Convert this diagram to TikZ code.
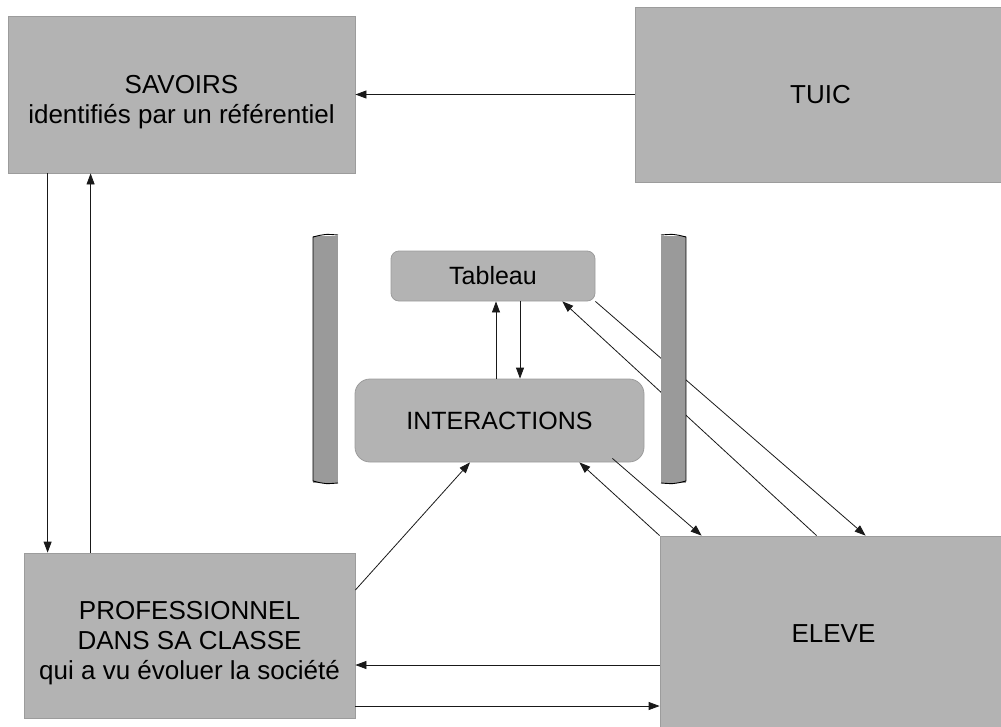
\documentclass[tikz,border=0pt]{standalone}
\usepackage{fontspec}
\setmainfont{Liberation Sans}
\usetikzlibrary{arrows.meta}

\definecolor{boite}{HTML}{B3B3B3}
\definecolor{bord}{HTML}{9C9C9C}
\definecolor{barre}{HTML}{9A9A9A}

\tikzset{
  bloc/.style={rectangle, fill=boite, draw=bord, line width=0.8pt, align=center,
    inner sep=0pt, font=\fontsize{26}{30}\selectfont},
  texte/.style={align=center, inner sep=0pt, yshift=-8pt, font=\fontsize{26}{30}\selectfont},
  arrondi/.style={bloc, rounded corners=#1, font=\fontsize{25}{30}\selectfont},
  arrondi/.default=10pt,
  fleche/.style={->, line width=0.8pt, black!90}
}

\begin{document}
\begin{tikzpicture}[x=1pt, y=-1pt, >={Triangle[length=11pt,width=8pt]}]
	\useasboundingbox (0,0) rectangle (1001,726);

	% Boxes
	\node[bloc, minimum width=347pt, minimum height=157pt,
		label={[texte]center:SAVOIRS\\identifiés par un référentiel}] (savoirs) at (181.5,94.5) {};
	\node[bloc, minimum width=371pt, minimum height=175pt] (tuic) at (820.5,94.5) {TUIC};
	\node[bloc, minimum width=331pt, minimum height=165pt,
		label={[texte]center:PROFESSIONNEL\\DANS SA CLASSE\\qui a vu évoluer la société}] (prof) at (189.5,635.5) {};
	\node[bloc, minimum width=347pt, minimum height=196pt] (eleve) at (833.5,634) {ELEVE};
	\node[arrondi=8pt, minimum width=204pt, minimum height=50pt] (tableau) at (493,276) {Tableau};
	\node[arrondi=15pt, minimum width=289pt, minimum height=83pt] (inter) at (499.5,420.5) {INTERACTIONS};

	% Arrows
	\draw[fleche] (tuic.west) -- (savoirs.east);
	\draw[fleche] ([xshift=40pt]savoirs.south west) -- ([xshift=40pt]savoirs.south west |- prof.north);
	\draw[fleche] ([xshift=67pt]prof.north west) -- ([xshift=67pt]prof.north west |- savoirs.south);
	\draw[fleche] ([yshift=-31pt]eleve.west) -- ([yshift=-31pt]eleve.west -| prof.east);
	\draw[fleche] ([yshift=-70.5pt]prof.east) -- ([yshift=-70.5pt]prof.east -| eleve.west);
	\draw[fleche] ([yshift=45.5pt]prof.east) -- ([xshift=-29.5pt]inter.south);
	\draw[fleche] ([xshift=-3.5pt]inter.north) -- ([xshift=-3.5pt]inter.north |- tableau.south);
	\draw[fleche] ([xshift=27pt]tableau.south) -- ([xshift=27pt]tableau.south |- inter.north);
	\draw[fleche] (tableau.south east) -- ([xshift=206pt]eleve.north west);
	\draw[fleche] ([xshift=157pt]eleve.north west) -- ([xshift=-33pt]tableau.south east);
	\draw[fleche] ([xshift=-32pt,yshift=4pt]inter.south east) -- ([xshift=42pt]eleve.north west);
	\draw[fleche] (eleve.north west) -- ([xshift=-65pt]inter.south east);

	% Side bars
	\fill[barre] (313,236) rectangle (338,483);
	\draw[line width=0.9pt] (338,235) .. controls (325,234) .. (313,237) -- (313,481)
		.. controls (325,484) .. (338,483);
	\fill[barre] (661,236) rectangle (686,483);
	\draw[line width=0.9pt] (661,235) .. controls (674,234) .. (686,237) -- (686,481)
		.. controls (674,484) .. (661,483);
\end{tikzpicture}
\end{document}
